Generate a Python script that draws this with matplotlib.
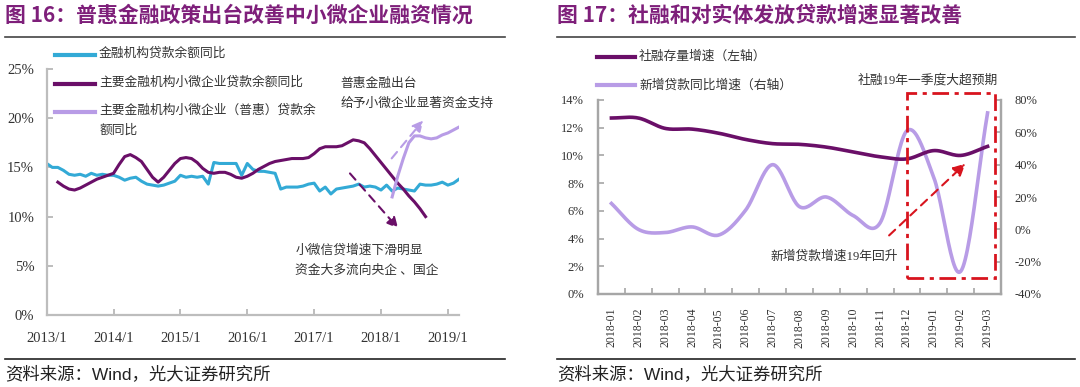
import numpy as np
import matplotlib
matplotlib.use('Agg')
import matplotlib.pyplot as plt
from matplotlib.lines import Line2D
from matplotlib.patches import Rectangle

plt.rcParams['font.family'] = ['Liberation Serif', 'Noto Sans CJK SC']
plt.rcParams['axes.unicode_minus'] = False

# ──────────────────────────────────────────────
# 数据：图16（月度，2013/1 起）
# ──────────────────────────────────────────────
year_ticks = ['2013/1', '2014/1', '2015/1', '2016/1', '2017/1', '2018/1', '2019/1']

loan_total = [15.4, 15.0, 15.0, 14.7, 14.3, 14.2, 14.3, 14.1, 14.4, 14.2, 14.3, 14.2,
              14.2, 14.0, 13.7, 13.9, 14.0, 13.6, 13.3, 13.2, 13.1, 13.2, 13.4, 13.6,
              14.2, 14.0, 14.1, 14.0, 14.1, 13.3, 15.5, 15.4, 15.4, 15.4, 15.4, 14.2,
              15.4, 14.8, 14.6, 14.6, 14.5, 14.4, 12.8, 13.0, 13.0, 13.0, 13.1, 13.3,
              13.4, 12.6, 13.0, 12.3, 12.8, 12.9, 13.0, 13.1, 13.3, 13.0, 13.1, 13.0,
              12.7, 13.2, 12.6, 12.9, 12.8, 12.7, 12.6, 13.3, 13.2, 13.2, 13.3, 13.5,
              13.2, 13.4, 13.8]

small_start = 2   # 2013/3
small_loan = [13.5, 13.1, 12.8, 12.7, 12.9, 13.2, 13.5, 13.8, 14.0, 14.2,
              14.4, 15.3, 16.1, 16.3, 16.0, 15.6, 14.8, 14.0, 13.5, 14.0,
              14.7, 15.4, 15.9, 16.0, 15.9, 15.5, 14.9, 14.5, 14.4, 14.5,
              14.5, 14.3, 14.0, 13.9, 14.1, 14.4, 14.8, 15.1, 15.4, 15.6,
              15.7, 15.8, 15.9, 15.9, 15.9, 16.0, 16.4, 16.9, 17.1, 17.1,
              17.1, 17.2, 17.5, 17.8, 17.7, 17.5, 16.9, 16.2, 15.5, 14.8,
              14.1, 13.4, 12.8, 12.1, 11.5, 10.8, 10.0]

inclusive_start = 62   # 2018/3
inclusive_loan = [12.0, 14.1, 15.9, 17.5, 18.2, 18.2, 18.0, 17.9, 18.0, 18.3, 18.5, 18.8, 19.1]

# ──────────────────────────────────────────────
# 数据：图17（2018-01 ~ 2019-03）
# ──────────────────────────────────────────────
months = ['2018-01', '2018-02', '2018-03', '2018-04', '2018-05', '2018-06', '2018-07',
          '2018-08', '2018-09', '2018-10', '2018-11', '2018-12', '2019-01', '2019-02',
          '2019-03']
sf_growth = [12.7, 12.7, 11.95, 11.9, 11.6, 11.15, 10.85, 10.8, 10.6, 10.25, 9.9, 9.75,
             10.35, 10.0, 10.65]
new_loan_yoy = [16, 0, -2, 1.5, -3.5, 12, 40, 14, 20, 8.5, 4, 61, 32, -26, 72]

PURPLE_T = '#7e1f7a'
BLUE = '#33aad6'
DPURPLE = '#6a0f68'
LILAC = '#b89ce6'
GRAY = '#bdbdbd'
RED = '#d8141e'
FS = 9.2   # 注释 / 图例字号


def smooth(y, n=24):
    """Catmull-Rom 平滑（仅用于绘制）"""
    y = np.asarray(y, dtype=float)
    k = len(y)
    t = np.gradient(y)
    xs, ys = [], []
    for i in range(k - 1):
        s = np.linspace(0, 1, n, endpoint=False)
        h00 = 2 * s**3 - 3 * s**2 + 1
        h10 = s**3 - 2 * s**2 + s
        h01 = -2 * s**3 + 3 * s**2
        h11 = s**3 - s**2
        xs.append(i + s)
        ys.append(h00 * y[i] + h10 * t[i] + h01 * y[i + 1] + h11 * t[i + 1])
    xs.append([k - 1])
    ys.append([y[-1]])
    return np.concatenate(xs), np.concatenate(ys)


W, H = 1080, 387
fig = plt.figure(figsize=(W / 100, H / 100), dpi=100)


def fx(x):
    return x / W


def fy(y):
    return 1 - y / H


# ──────────────────────────────────────────────
# 标题、分隔线、资料来源
# ──────────────────────────────────────────────
for x0, x1, title in [(5, 505, '图 16：普惠金融政策出台改善中小微企业融资情况'),
                      (557, 1075, '图 17：社融和对实体发放贷款增速显著改善')]:
    fig.text(fx(x0), fy(15), title, fontsize=15, fontweight='bold', color=PURPLE_T,
             family=['Noto Sans CJK SC'], va='center', ha='left')
    fig.add_artist(Line2D([fx(x0), fx(x1)], [fy(37), fy(37)], color='#444444', lw=1.2))
    fig.add_artist(Line2D([fx(x0), fx(x1)], [fy(359), fy(359)], color='#222222', lw=1.2))
    fig.text(fx(x0), fy(374), '资料来源：Wind，光大证券研究所', fontsize=12.5,
             family=['Liberation Sans', 'Noto Sans CJK SC'], va='center', ha='left',
             color='#222222')

# ──────────────────────────────────────────────
# 图16
# ──────────────────────────────────────────────
ax1 = fig.add_axes([fx(46.7), fy(315), fx(459) - fx(46.7), fy(69) - fy(315)])
ax1.plot(np.arange(len(loan_total)), loan_total, color=BLUE, lw=2.2)
ax1.plot(np.arange(small_start, small_start + len(small_loan)), small_loan, color=DPURPLE, lw=2.2)
ax1.plot(np.arange(inclusive_start, inclusive_start + len(inclusive_loan)), inclusive_loan,
         color=LILAC, lw=2.2)

ax1.set_xlim(0, 74)
ax1.set_ylim(0, 25)
ax1.set_xticks(np.arange(0, 12 * len(year_ticks), 12))
ax1.set_xticklabels(year_ticks)
ax1.set_yticks(np.arange(0, 26, 5))
ax1.set_yticklabels([f'{v}%' for v in range(0, 26, 5)])
for s in ['top', 'right']:
    ax1.spines[s].set_visible(False)
for s in ['left', 'bottom']:
    ax1.spines[s].set_color(GRAY)
    ax1.spines[s].set_linewidth(1.6)
ax1.tick_params(axis='both', direction='in', length=4, width=1.4, color=GRAY,
                labelsize=10.5, labelcolor='#333333')
ax1.tick_params(axis='y', pad=9)
ax1.tick_params(axis='x', pad=12)

# 图例（手绘）
leg16 = [(55, '金融机构贷款余额同比', BLUE),
         (84, '主要金融机构小微企业贷款余额同比', DPURPLE),
         (112, '主要金融机构小微企业（普惠）贷款余\n额同比', LILAC)]
for y, label, c in leg16:
    fig.add_artist(Line2D([fx(55), fx(95)], [fy(y), fy(y)], color=c, lw=3))
    fig.text(fx(99), fy(y) + 7.5 / H, label, fontsize=FS, va='top', ha='left',
             color='#333333', linespacing=1.85)

# 注释
ax1.annotate('', xy=(67.9, 20.0), xytext=(61.6, 15.7),
             arrowprops=dict(arrowstyle='-|>', linestyle=(0, (4, 3)), color=LILAC, lw=1.5,
                             mutation_scale=16))
ax1.annotate('', xy=(63.4, 8.6), xytext=(54.1, 14.6),
             arrowprops=dict(arrowstyle='-|>', linestyle=(0, (4, 3)), color=DPURPLE, lw=1.5,
                             mutation_scale=16))
ax1.text(52.7, 22.5, '普惠金融出台\n给予小微企业显著资金支持', fontsize=FS, va='center',
         ha='left', linespacing=1.85, color='#333333')
ax1.text(44.6, 5.5, '小微信贷增速下滑明显\n资金大多流向央企 、国企', fontsize=FS, va='center',
         ha='left', linespacing=1.85, color='#333333')

# ──────────────────────────────────────────────
# 图17
# ──────────────────────────────────────────────
ax2 = fig.add_axes([fx(598), fy(294), fx(1001) - fx(598), fy(100) - fy(294)])
ax3 = ax2.twinx()
xs, ys = smooth(sf_growth)
ax2.plot(xs, ys, color=DPURPLE, lw=2.6, zorder=3)
xs, ys = smooth(new_loan_yoy)
ax3.plot(xs, ys, color=LILAC, lw=2.6)
ax2.set_zorder(ax3.get_zorder() + 1)
ax2.patch.set_visible(False)

ax2.set_xlim(-0.5, len(months) - 0.5)
ax2.set_ylim(0, 14)
ax3.set_ylim(-40, 80)
ax2.set_xticks(np.arange(len(months)))
ax2.set_xticklabels(months, rotation=90)
ax2.set_xticks(np.arange(0.5, len(months) - 1, 1), minor=True)
ax2.set_yticks(np.arange(0, 15, 2))
ax2.set_yticklabels([f'{v}%' for v in range(0, 15, 2)])
ax3.set_yticks(np.arange(-40, 81, 20))
ax3.set_yticklabels([f'{v}%' for v in range(-40, 81, 20)])
for a in (ax2, ax3):
    a.spines['top'].set_visible(False)
    for s in ['left', 'right', 'bottom']:
        a.spines[s].set_color('#a6a6a6')
        a.spines[s].set_linewidth(1.6)
ax2.tick_params(axis='x', which='major', length=0, labelsize=8.5, pad=10, labelcolor='#333333')
ax2.tick_params(axis='x', which='minor', direction='in', length=4, width=1.2, color='#a6a6a6')
ax2.tick_params(axis='y', direction='in', length=4, width=1.2, color='#a6a6a6',
                labelsize=9, pad=10, labelcolor='#333333')
ax3.tick_params(axis='y', direction='in', length=4, width=1.2, color='#a6a6a6',
                labelsize=9, pad=10, labelcolor='#333333')

# 红框与箭头
ax2.add_patch(Rectangle((11.0, 1.15), 3.27, 14.5 - 1.15, fill=False, edgecolor=RED, lw=2,
                        linestyle=(0, (6, 2, 1.5, 2)), clip_on=False, zorder=5))
ax2.annotate('', xy=(13.25, 9.55), xytext=(10.26, 4.09),
             arrowprops=dict(arrowstyle='-|>', linestyle=(0, (4, 3)), color=RED, lw=1.5,
                             mutation_scale=18), zorder=6)
ax2.text(8.3, 2.69, '新增贷款增速19年回升', fontsize=FS, ha='center', va='center',
         color='#333333')
fig.text(fx(928), fy(80), '社融19年一季度大超预期', fontsize=FS, ha='center', va='center',
         color='#333333')

leg17 = [(57, '社融存量增速（左轴）', DPURPLE),
         (85, '新增贷款同比增速（右轴）', LILAC)]
for y, label, c in leg17:
    fig.add_artist(Line2D([fx(597), fx(635)], [fy(y), fy(y)], color=c, lw=3))
    fig.text(fx(639), fy(y), label, fontsize=FS, va='center', ha='left', color='#333333')

fig.savefig('out.png', dpi=100)
